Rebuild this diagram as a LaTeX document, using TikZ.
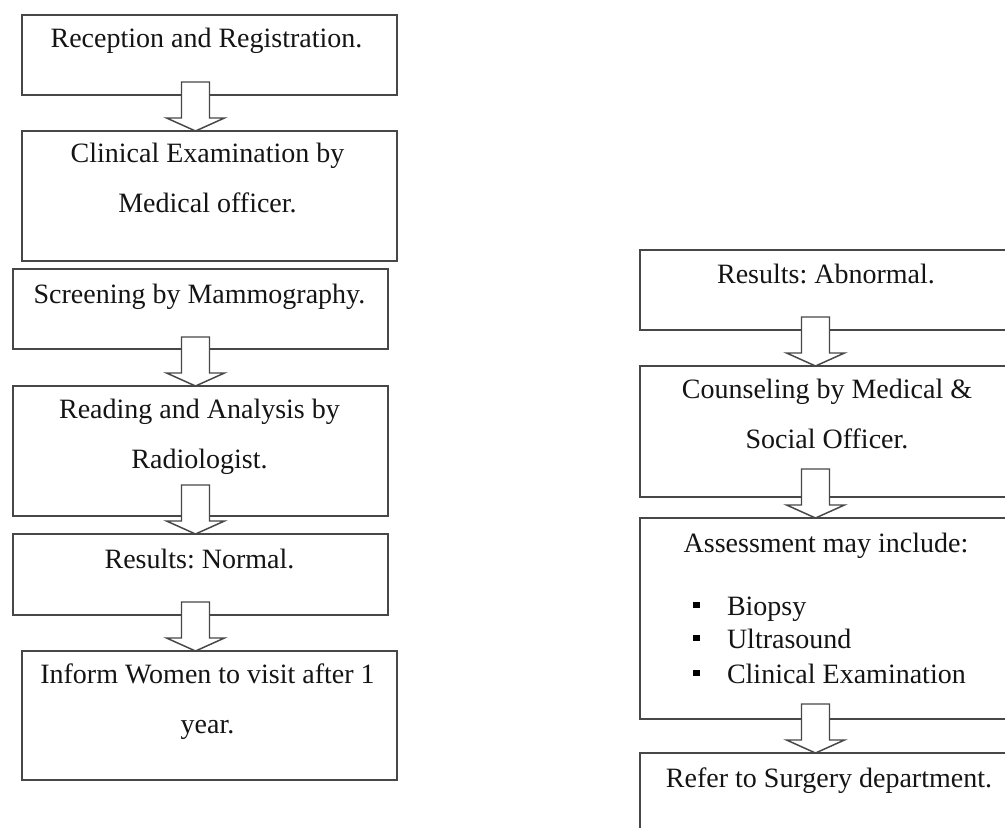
\documentclass[tikz,border=0pt]{standalone}
\usepackage{fontspec}
\setmainfont{Liberation Serif}
\usetikzlibrary{calc}
\frenchspacing
\begin{document}
\begin{tikzpicture}[x=0.75pt,y=-0.75pt,
  box/.style={draw=black!72,line width=1.1pt,rectangle,inner sep=0pt,outer sep=0pt,fill=none},
  txt/.style={inner sep=0pt,outer sep=0pt,font=\fontsize{21}{25}\selectfont\frenchspacing,text=black!92},
  blockarrow/.style={draw=black!72,line width=1.1pt,fill=white,line join=miter},
  bulletsq/.style={fill=black,inner sep=0pt,minimum size=5.2pt,rectangle}]
\useasboundingbox (0,0) rectangle (1005,827);
\clip (0,0) rectangle (1005,827);
\coordinate (lax) at (195.5,0);
\coordinate (rax) at (815.5,0);
% left column boxes
\node[box,minimum width=281.25pt,minimum height=60pt] (b1) at (209.5,55) {};
\node[box,minimum width=281.25pt,minimum height=97.5pt] (b2) at (209.5,196) {};
\node[box,minimum width=281.25pt,minimum height=60pt] (b3) at (200.5,309) {};
\node[box,minimum width=281.25pt,minimum height=97.5pt] (b4) at (200.5,451) {};
\node[box,minimum width=281.25pt,minimum height=60.75pt] (b5) at (200.5,574.5) {};
\node[box,minimum width=281.25pt,minimum height=96.75pt] (b6) at (209.5,715.5) {};
% right column boxes
\node[box,minimum width=280.5pt,minimum height=60pt] (r1) at (827,290) {};
\node[box,minimum width=280.5pt,minimum height=98.25pt] (r2) at (827,431.5) {};
\node[box,minimum width=280.5pt,minimum height=150.75pt] (r3) at (827,618.5) {};
\node[box,minimum width=280.5pt,minimum height=90pt] (r4) at (827,813) {};
% texts
\node[txt,anchor=base] (t1) at ($(b1.north)+(-3,33)$) {Reception and Registration.};
\node[txt,anchor=base] (t2a) at ($(b2.north)+(-2,32)$) {Clinical Examination by};
\node[txt,anchor=base] (t2b) at ($(b2.north)+(-2,82)$) {Medical officer.};
\node[txt,anchor=base] (t3) at ($(b3.north)+(-1,34)$) {Screening by Mammography.};
\node[txt,anchor=base] (t4a) at ($(b4.north)+(-1,32)$) {Reading and Analysis by};
\node[txt,anchor=base] (t4b) at ($(b4.north)+(-1,82)$) {Radiologist.};
\node[txt,anchor=base] (t5) at ($(b5.north)+(-1,34)$) {Results: Normal.};
\node[txt,anchor=base] (t6a) at ($(b6.north)+(-2,32)$) {Inform Women to visit after 1};
\node[txt,anchor=base] (t6b) at ($(b6.north)+(-2,82)$) {year.};
\node[txt,anchor=base] (u1) at ($(r1.north)+(-1,33)$) {Results: Abnormal.};
\node[txt,anchor=base] (u2a) at ($(r2.north)+(0,32)$) {Counseling by Medical \&};
\node[txt,anchor=base] (u2b) at ($(r2.north)+(0,82)$) {Social Officer.};
\node[txt,anchor=base] (u3) at ($(r3.north)+(-1,34)$) {Assessment may include:};
\node[bulletsq] (q1) at (696.5,605) {};
\node[bulletsq] (q2) at (696.5,638) {};
\node[bulletsq] (q3) at (696.5,673) {};
\node[txt,anchor=base west] (u3a) at (727,615) {Biopsy};
\node[txt,anchor=base west] (u3b) at (727,648) {Ultrasound};
\node[txt,anchor=base west] (u3c) at (727,683) {Clinical Examination};
\node[txt,anchor=base] (u4) at ($(r4.north)+(2,34)$) {Refer to Surgery department.};
% block arrows (tip on the next box)
\foreach \tgt/\ax in {b2/lax,b4/lax,b5/lax,b6/lax,r2/rax,r3/rax,r4/rax}{
  \draw[blockarrow] (\tgt.north -| \ax) -- ++(-29,-13) -- ++(15,0) -- ++(0,-36)
     -- ++(28,0) -- ++(0,36) -- ++(15,0) -- cycle;
}
\end{tikzpicture}
\end{document}
